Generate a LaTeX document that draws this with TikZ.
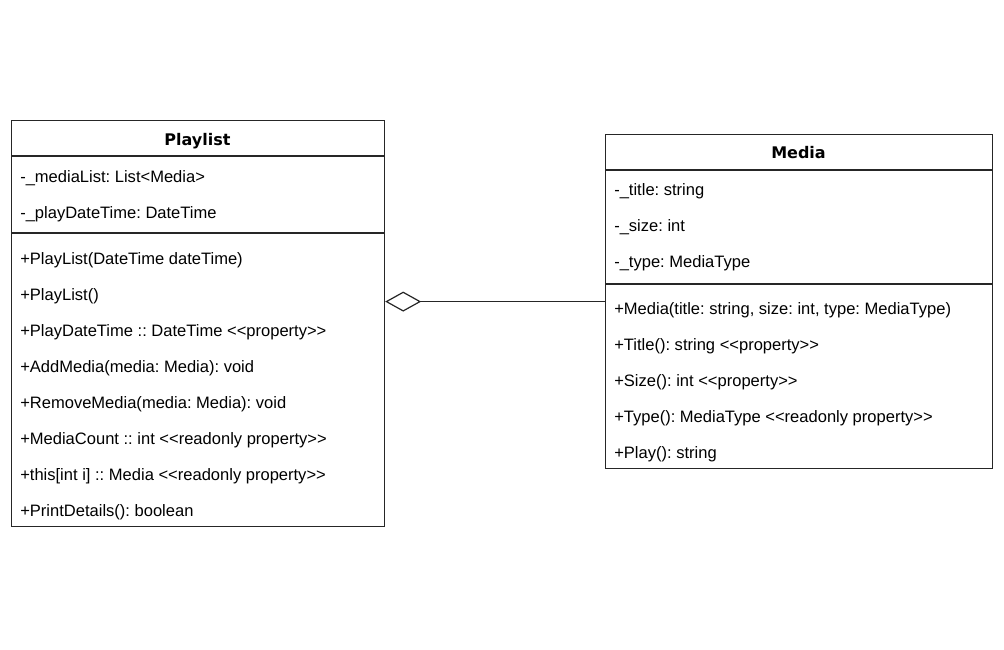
\documentclass[tikz,border=0pt]{standalone}
\usepackage{fontspec}
\setmainfont{Liberation Sans}[Ligatures=TeXOff]
\newfontfamily\titlefont{DejaVu Sans}
\usetikzlibrary{arrows.meta}
\frenchspacing

\tikzset{
  classbox/.style={draw=black!85, line width=0.9pt, inner sep=0pt, anchor=north west},
  sepline/.style={draw=black!85, line width=0.9pt},
  classtitle/.style={inner sep=0pt, anchor=base, font=\titlefont\bfseries\fontsize{12pt}{14pt}\selectfont},
  member/.style={inner sep=0pt, anchor=base west, font=\fontsize{12.4pt}{14pt}\selectfont},
}

\begin{document}
\begin{tikzpicture}[x=0.75pt,y=0.75pt,yscale=-1,xscale=1]
	\useasboundingbox (0,0) rectangle (1004,650);
	% Playlist class
	\node [classbox, minimum width=279.75pt, minimum height=304.5pt] (playlist) at (11,120) {};
	\draw [sepline] (playlist.west |- 0,156) -- (playlist.east |- 0,156);
	\draw [sepline] (playlist.west |- 0,233) -- (playlist.east |- 0,233);
	\node [classtitle] (pltitle) at (197.5,145) {Playlist};
	\node [member] (plattr1) at (20,182.5) {-\_mediaList: List<Media>};
	\node [member] (plattr2) at (20,218.5) {-\_playDateTime: DateTime};
	\node [member] (plop1) at (20,264.5) {+PlayList(DateTime dateTime)};
	\node [member] (plop2) at (20,300.5) {+PlayList()};
	\node [member] (plop3) at (20,336.5) {+PlayDateTime :: DateTime <<property>>};
	\node [member] (plop4) at (20,372.5) {+AddMedia(media: Media): void};
	\node [member] (plop5) at (20,408.5) {+RemoveMedia(media: Media): void};
	\node [member] (plop6) at (20,444.5) {+MediaCount :: int <<readonly property>>};
	\node [member] (plop7) at (20,480.5) {+this[int i] :: Media <<readonly property>>};
	\node [member] (plop8) at (20,516.5) {+PrintDetails(): boolean};
	% Media class
	\node [classbox, minimum width=290.25pt, minimum height=250.5pt] (media) at (605,134) {};
	\draw [sepline] (media.west |- 0,170) -- (media.east |- 0,170);
	\draw [sepline] (media.west |- 0,284) -- (media.east |- 0,284);
	\node [classtitle] (mdtitle) at (798.5,158.5) {Media};
	\node [member] (mdattr1) at (614,195.5) {-\_title: string};
	\node [member] (mdattr2) at (614,231.2) {-\_size: int};
	\node [member] (mdattr3) at (614,267) {-\_type: MediaType};
	\node [member] (mdop1) at (614,314.5) {+Media(title: string, size: int, type: MediaType)};
	\node [member] (mdop2) at (614,350.5) {+Title(): string <<property>>};
	\node [member] (mdop3) at (614,386.5) {+Size(): int <<property>>};
	\node [member] (mdop4) at (614,422.5) {+Type(): MediaType <<readonly property>>};
	\node [member] (mdop5) at (614,458.5) {+Play(): string};
	% aggregation
	\draw [line width=0.9pt, black!85, {Diamond[open, length=27pt, width=15pt]}-] (media.west -| playlist.east) -- (media.west);
\end{tikzpicture}
\end{document}
